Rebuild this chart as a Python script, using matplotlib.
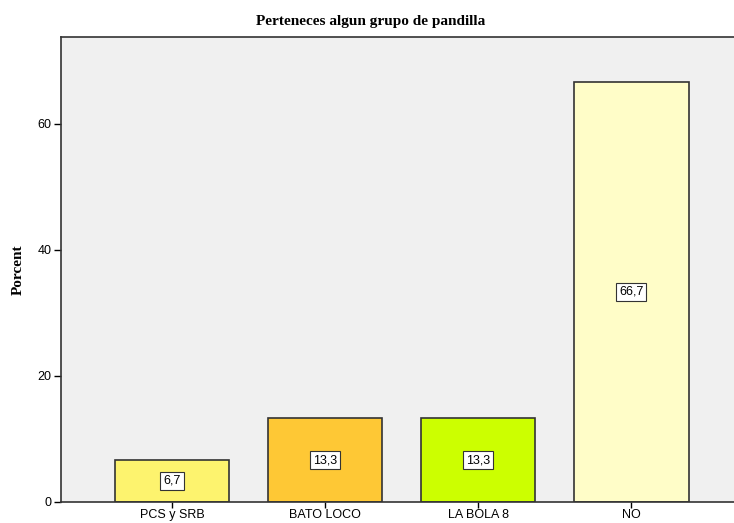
import matplotlib
matplotlib.use("Agg")
import matplotlib.pyplot as plt

categories = ["PCS y SRB", "BATO LOCO", "LA BOLA 8", "NO"]
percents = [6.7, 13.3, 13.3, 66.7]
labels = ["6,7", "13,3", "13,3", "66,7"]
colors = ["#FDF36E", "#FEC835", "#CCFF00", "#FFFDC8"]

fig = plt.figure(figsize=(7.34, 5.23), dpi=100)
fig.patch.set_facecolor("white")
ax = fig.add_axes([61/734, 1 - 502/523, 1 - 61/734 + 0.01, (502 - 37)/523])
ax.set_facecolor("#F0F0F0")
x = list(range(len(categories)))
ax.bar(x, percents, width=0.75, color=colors, edgecolor="#333333", linewidth=1.2, zorder=2)
for xi, v, lab in zip(x, percents, labels):
    ax.text(xi, v / 2, lab, ha="center", va="center", fontsize=9, family="Liberation Sans",
            bbox=dict(boxstyle="square,pad=0.25", fc="white", ec="#333333", lw=0.8), zorder=3)
ax.set_xlim(-0.725, 3.72)
ax.set_ylim(0, 73.8)
ax.set_yticks([0, 20, 40, 60])
ax.set_xticks(x)
ax.set_xticklabels(categories, family="Liberation Sans", fontsize=9)
ax.tick_params(axis="y", labelsize=9, length=5, width=1, pad=2)
ax.tick_params(axis="x", length=4, width=1, pad=1)
for t in ax.get_yticklabels():
    t.set_family("Liberation Sans")
ax.spines["right"].set_visible(False)
for s in ["left", "top", "bottom"]:
    ax.spines[s].set_color("#333333")
    ax.spines[s].set_linewidth(1.2)
ax.set_ylabel("Porcent", family="Liberation Serif", fontweight="bold", fontsize=11, labelpad=9)
fig.text(371/734, 1 - 22/523, "Perteneces algun grupo de pandilla", ha="center", va="center",
         family="Liberation Serif", fontweight="bold", fontsize=11)
fig.savefig("out.png", dpi=100)
